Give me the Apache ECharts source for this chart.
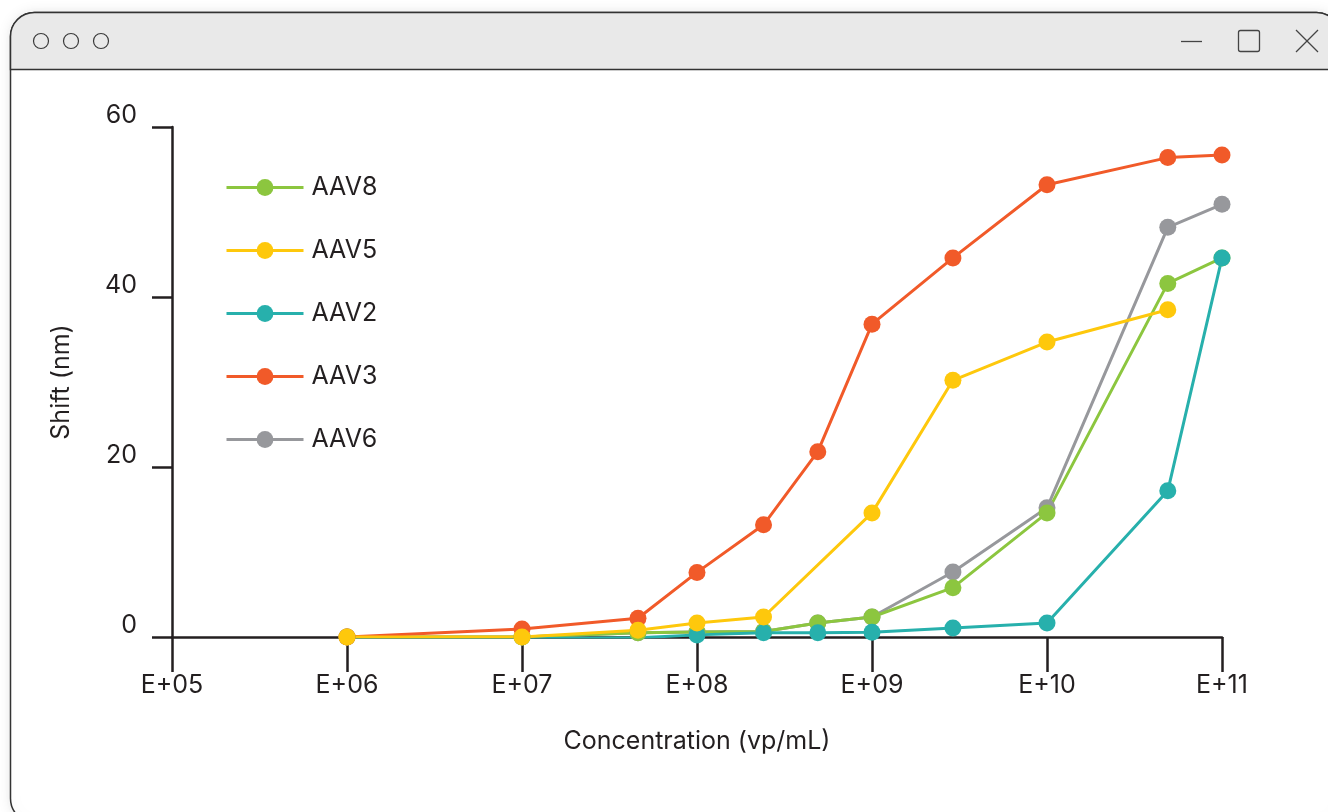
<!DOCTYPE html>
<html>
<head>
<meta charset="utf-8">
<script src="https://cdn.jsdelivr.net/npm/echarts@6/dist/echarts.min.js"></script>
<style>
html,body{margin:0;padding:0;background:#ffffff;}
#chart{width:1328px;height:812px;}
</style>
</head>
<body>
<div id="chart"></div>
<script>
// Concentrations (vp/mL)
var concentrations = [1e6, 1e7, 4.6e7, 1e8, 2.4e8, 4.9e8, 1e9, 2.9e9, 1e10, 4.9e10, 1e11];
// Shift (nm) per serotype
var aav8 = [0, 0, 0.5, 0.6, 0.65, 1.65, 2.35, 5.8, 14.6, 41.6, 44.6];
var aav5 = [0, 0, 0.8, 1.65, 2.35, null, 14.6, 30.2, 34.7, 38.5, null];
var aav2 = [-0.1, -0.2, -0.1, 0.25, 0.5, 0.5, 0.55, 1.05, 1.65, 17.2, 44.6];
var aav3 = [0, 0.95, 2.2, 7.6, 13.2, 21.8, 36.8, 44.6, 53.2, 56.4, 56.7];
var aav6 = [0, 0, 0.5, 0.6, 0.65, 1.65, 2.35, 7.65, 15.2, 48.2, 50.9];
var legendOrder = ['AAV8', 'AAV5', 'AAV2', 'AAV3', 'AAV6'];
var yTicks = [0, 20, 40, 60];

var colors = {AAV8:'#8cc63f', AAV5:'#fec80c', AAV2:'#27b0ac', AAV3:'#f15a29', AAV6:'#97989c'};
var seriesValues = {AAV8:aav8, AAV5:aav5, AAV2:aav2, AAV3:aav3, AAV6:aav6};
// drawing order (bottom to top)
var drawOrder = ['AAV6', 'AAV8', 'AAV2', 'AAV3', 'AAV5'];

function pairs(vals){
  return concentrations.map(function(c,i){ return [c, vals[i]]; });
}

var ink = '#231f20';
var font = 'Inter, Roboto, "Noto Sans", sans-serif';

var chart = echarts.init(document.getElementById('chart'), null, {renderer:'canvas'});
chart.setOption({
  animation: false,
  textStyle: {fontFamily: font},
  graphic: [
    {type:'rect', z:-10, shape:{x:10.5, y:12.5, width:1330, height:810, r:24},
     style:{fill:'#ffffff', stroke:'#333333', lineWidth:1.5, shadowBlur:14, shadowColor:'rgba(0,0,0,0.10)'}},
    {type:'rect', z:-9, shape:{x:10.5, y:12.5, width:1330, height:57, r:[24,24,0,0]},
     style:{fill:'#e9e9e9', stroke:'#333333', lineWidth:1.5}},
    {type:'circle', z:-8, shape:{cx:41, cy:41, r:7.5}, style:{fill:'none', stroke:'#3a3a3a', lineWidth:1.2}},
    {type:'circle', z:-8, shape:{cx:71, cy:41, r:7.5}, style:{fill:'none', stroke:'#3a3a3a', lineWidth:1.2}},
    {type:'circle', z:-8, shape:{cx:101, cy:41, r:7.5}, style:{fill:'none', stroke:'#3a3a3a', lineWidth:1.2}},
    {type:'line', z:-8, shape:{x1:1181, y1:41.5, x2:1202, y2:41.5}, style:{stroke:'#444', lineWidth:1.3}},
    {type:'rect', z:-8, shape:{x:1238.5, y:30.5, width:21, height:21, r:2}, style:{fill:'none', stroke:'#444', lineWidth:1.3}},
    {type:'line', z:-8, shape:{x1:1296, y1:30, x2:1318, y2:52}, style:{stroke:'#444', lineWidth:1.3}},
    {type:'line', z:-8, shape:{x1:1318, y1:30, x2:1296, y2:52}, style:{stroke:'#444', lineWidth:1.3}}
  ],
  grid: {left:172, right:106, top:127, bottom:175, containLabel:false},
  legend: {
    data: legendOrder,
    orient: 'vertical',
    left: 225, top: 175, padding: 0,
    itemWidth: 77, itemHeight: 21, itemGap: 38,
    lineStyle: {width: 3},
    textStyle: {fontSize: 25, color: ink, fontFamily: font, padding:[0,0,0,3]},
    selectedMode: false
  },
  xAxis: {
    type: 'log', logBase: 10, min: 1e5, max: 1e11, splitNumber: 6,
    name: 'Concentration (vp/mL)', nameLocation: 'middle', nameGap: 92,
    nameTextStyle: {fontSize: 25, color: ink, fontFamily: font},
    axisLine: {show:true, lineStyle:{color: ink, width: 2.5}},
    axisTick: {show:true, length: 35, lineStyle:{color: ink, width: 2.5}},
    minorTick: {show:false},
    splitLine: {show:false},
    axisLabel: {fontSize: 25, color: ink, margin: 36, fontFamily: font,
      formatter: function(v){ var e = Math.round(Math.log10(v)); return 'E+' + (e < 10 ? '0' + e : '' + e); }}
  },
  yAxis: {
    type: 'value', min: yTicks[0], max: yTicks[yTicks.length-1], interval: 20,
    name: 'Shift (nm)', nameLocation: 'middle', nameGap: 98,
    nameTextStyle: {fontSize: 25, color: ink, fontFamily: font},
    axisLine: {show:true, lineStyle:{color: ink, width: 2.5}},
    axisTick: {show:true, length: 20, lineStyle:{color: ink, width: 2.5}},
    splitLine: {show:false},
    axisLabel: {fontSize: 25, color: ink, margin: 35, fontFamily: font, verticalAlign: 'bottom', lineHeight: 24}
  },
  series: drawOrder.map(function(name){
    return {
      name: name, type: 'line',
      data: pairs(seriesValues[name]),
      connectNulls: true,
      symbol: 'circle', symbolSize: 17, showSymbol: true,
      lineStyle: {color: colors[name], width: 3},
      itemStyle: {color: colors[name]},
      emphasis: {disabled: true}
    };
  })
});
</script>
</body>
</html>
